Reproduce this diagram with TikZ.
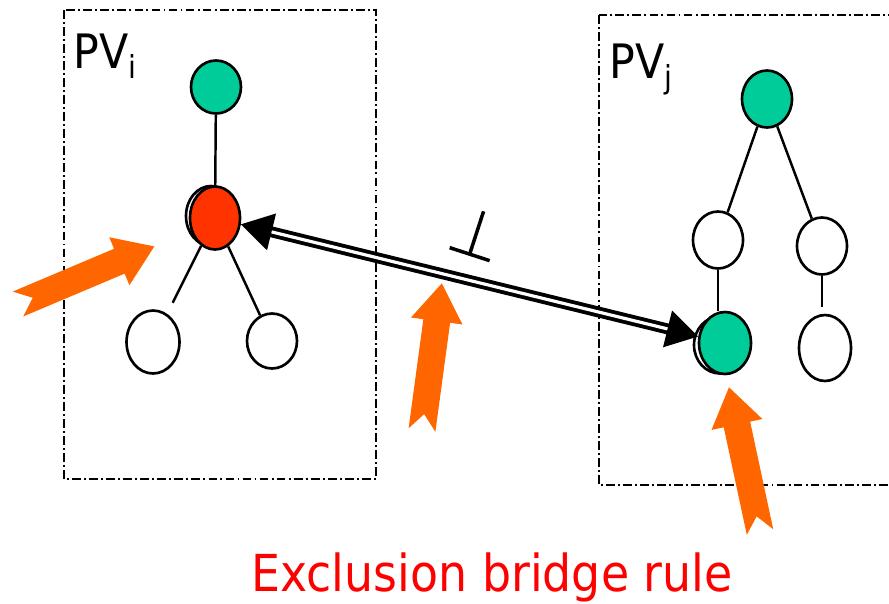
\documentclass[tikz,border=0pt]{standalone}
\usepackage{fontspec}
\setmainfont[FakeStretch=0.9]{DejaVu Sans}
\usepackage{tikz}
\usetikzlibrary{shapes.geometric,arrows.meta}

\definecolor{sgreen}{RGB}{0,204,153}
\definecolor{sred}{RGB}{255,51,0}
\definecolor{hintorange}{RGB}{255,102,0}

\tikzset{
  state/.style={ellipse, draw, line width=1.5pt, fill=white, minimum width=1cm, minimum height=1.1cm, inner sep=0pt},
  frame/.style={line width=1.1pt, dash pattern=on 5pt off 1.8pt on 1.1pt off 1.8pt},
  link/.style={line width=1.4pt},
  bridge/.style={double, line width=2.2pt, double distance=1.8pt,
    {Triangle[length=18pt,width=21pt]}-{Triangle[length=18pt,width=21pt]}},
  hint/.style={fill=hintorange},
}

% fat orange pointer: tail point, direction angle
\newcommand{\hintarrow}[2]{%
  \fill[hint, shift={#1}, rotate=#2]
    (0,13.5) -- (110,13.5) -- (110,26) -- (148,0) -- (110,-26)
    -- (110,-13.5) -- (0,-13.5) -- (16,0) -- cycle;}

\begin{document}
\begin{tikzpicture}[x=0.02cm, y=-0.02cm]
  \useasboundingbox (0,0) rectangle (889,603);
  % Frames
  \draw[frame] (64,10) rectangle (376,479);
  \draw[frame] (599,15) rectangle (900,485);
  \node[anchor=base west, inner sep=0pt, font=\fontsize{27pt}{27pt}\selectfont] (pvi) at (73,68)
    {PV\raisebox{-6pt}{\fontsize{18pt}{18pt}\selectfont i}};
  \node[anchor=base west, inner sep=0pt, font=\fontsize{27pt}{27pt}\selectfont] (pvj) at (609,78)
    {PV\raisebox{-6pt}{\fontsize{18pt}{18pt}\selectfont j}};
  % Left tree
  \node[state, fill=sgreen, minimum height=1.06cm] (gi) at (216,87) {};
  \node[state, minimum height=1.2cm] (riback) at (211,216) {};
  \node[state, fill=sred, minimum height=1.26cm] (ri) at (215,218) {};
  \node[state, minimum width=1.06cm, minimum height=1.26cm] (li) at (153,342) {};
  \node[state, minimum height=1.1cm] (mi) at (272,341) {};
  \draw[link] (gi) -- (ri);
  \draw[link, shorten >=7pt] (ri) -- (li);
  \draw[link] (ri) -- (mi);
  % Right tree
  \node[state, fill=sgreen, minimum height=1.14cm] (gj) at (767,99) {};
  \node[state, minimum height=1.14cm] (aj) at (718,240) {};
  \node[state, minimum height=1.14cm] (bj) at (822,246) {};
  \node[state, minimum width=1.04cm, minimum height=1.14cm] (gBback) at (720,345) {};
  \node[state, fill=sgreen, minimum width=1.04cm, minimum height=1.24cm] (gB) at (725,343) {};
  \node[state, minimum width=1.04cm, minimum height=1.32cm] (dj) at (825,348) {};
  \draw[link] (gj) -- (aj);
  \draw[link] (gj) -- (bj);
  \draw[link] (aj.south) -- (aj.south |- gB.north);
  \draw[link, shorten >=4pt] (bj.south) -- (bj.south |- dj.north);
  % Bridge between the two views, with the exclusion mark
  \draw[bridge] (ri) -- (gB) coordinate[pos=0.5] (mid);
  \begin{scope}[shift={(mid)}, rotate=-18, line width=2pt]
    \draw (-29,-25) -- (13,-25);
    \draw (-8,-25) -- (-8,-70);
  \end{scope}
  % Pointers
  \hintarrow{(18,304)}{22.9}
  \hintarrow{(422,430)}{82.3}
  \hintarrow{(760,532)}{102.1}
  \node[anchor=base, inner sep=0pt, text=red, font=\fontsize{29pt}{29pt}\selectfont] (rule) at (492,591)
    {Exclusion bridge rule};
\end{tikzpicture}
\end{document}
